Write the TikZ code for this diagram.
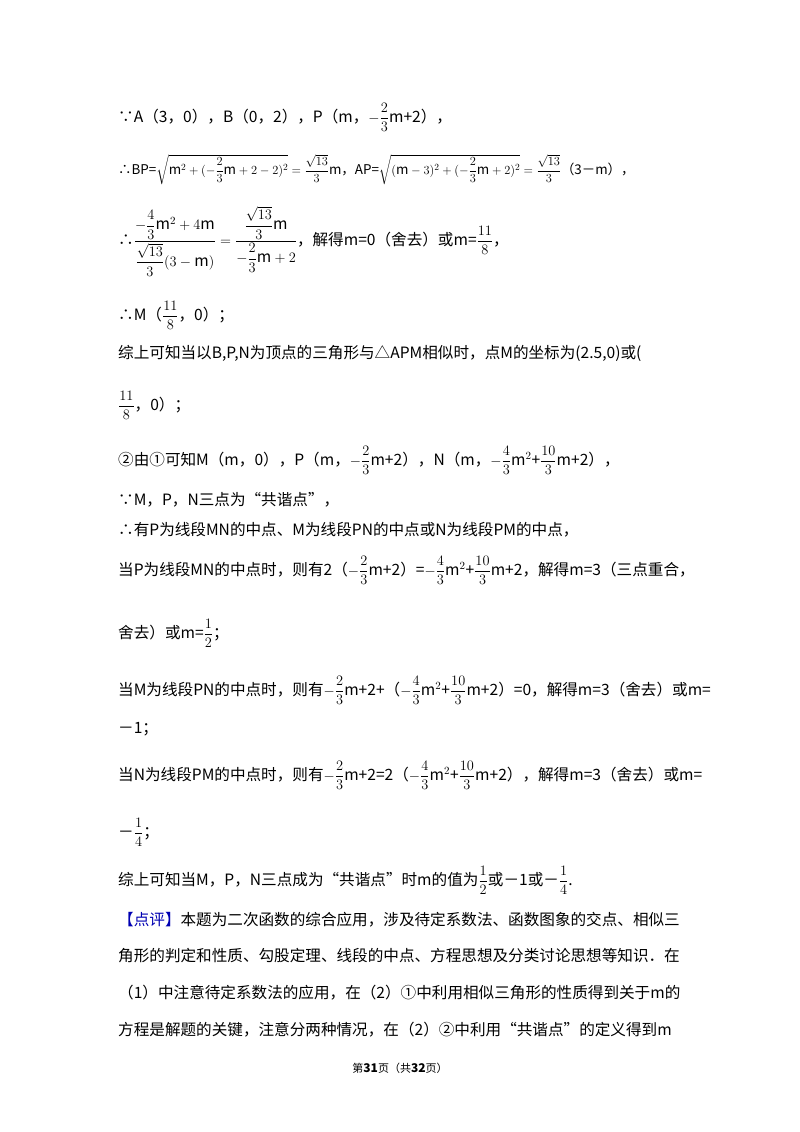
\documentclass[tikz,border=0pt]{standalone}
\usepackage{amsmath}
\usepackage{graphicx}
\usepackage{fontspec}
\setmainfont{Noto Sans CJK SC}
\tikzset{ln/.style={anchor=base west,inner sep=0pt,font=\fontsize{15.6}{17}\selectfont}}
\newcommand{\fr}[2]{\dfrac{#1}{#2}}
\begin{document}
\begin{tikzpicture}[x=1pt,y=-1pt]
\useasboundingbox (0,0) rectangle (800,1132);
\node[ln] (l1) at (118,122) {∵A（3，0），B（0，2），P（m，$-\fr{2}{3}$m+2），};
\node[ln] (l2) at (118,174) {\scalebox{0.86}{∴BP=$\sqrt{\mathrm{m}^2+(-\fr{2}{3}\mathrm{m}+2-2)^2}=\fr{\sqrt{13}}{3}$m，AP=$\sqrt{(\mathrm{m}-3)^2+(-\fr{2}{3}\mathrm{m}+2)^2}=\fr{\sqrt{13}}{3}$（3－m），}};
\node[ln] (l3) at (118,245) {∴$\dfrac{-\dfrac{4}{3}\mathrm{m}^2+4\mathrm{m}}{\dfrac{\sqrt{13}}{3}(3-\mathrm{m})}=\dfrac{\dfrac{\sqrt{13}}{3}\mathrm{m}}{-\dfrac{2}{3}\mathrm{m}+2}$，解得m=0（舍去）或m=$\fr{11}{8}$，};
\node[ln] (l4) at (118,320) {∴M（$\fr{11}{8}$，0）；};
\node[ln] (l5) at (118,358) {综上可知当以B,P,N为顶点的三角形与△APM相似时，点M的坐标为(2.5,0)或(};
\node[ln] (l6) at (118,410) {$\fr{11}{8}$，0）；};
\node[ln] (l7) at (118,465) {②由①可知M（m，0），P（m，$-\fr{2}{3}$m+2），N（m，$-\fr{4}{3}$m$^2$+$\fr{10}{3}$m+2），};
\node[ln] (l8) at (118,505) {∵M，P，N三点为“共谐点”，};
\node[ln] (l9) at (118,535) {∴有P为线段MN的中点、M为线段PN的中点或N为线段PM的中点，};
\node[ln] (l10) at (118,575) {当P为线段MN的中点时，则有2（$-\fr{2}{3}$m+2）=$-\fr{4}{3}$m$^2$+$\fr{10}{3}$m+2，解得m=3（三点重合，};
\node[ln] (l11) at (118,638) {舍去）或m=$\fr{1}{2}$；};
\node[ln] (l12) at (118,695) {当M为线段PN的中点时，则有$-\fr{2}{3}$m+2+（$-\fr{4}{3}$m$^2$+$\fr{10}{3}$m+2）=0，解得m=3（舍去）或m=};
\node[ln] (l13) at (118,733) {－1；};
\node[ln] (l14) at (118,780) {当N为线段PM的中点时，则有$-\fr{2}{3}$m+2=2（$-\fr{4}{3}$m$^2$+$\fr{10}{3}$m+2），解得m=3（舍去）或m=};
\node[ln] (l15) at (118,837) {－$\fr{1}{4}$；};
\node[ln] (l16) at (118,885) {综上可知当M，P，N三点成为“共谐点”时m的值为$\fr{1}{2}$或－1或－$\fr{1}{4}$.};
\node[ln] (l17) at (118,925) {\textcolor{blue!70!black}{【点评】}本题为二次函数的综合应用，涉及待定系数法、函数图象的交点、相似三};
\node[ln] (l18) at (118,961) {角形的判定和性质、勾股定理、线段的中点、方程思想及分类讨论思想等知识．在};
\node[ln] (l19) at (118,998) {（1）中注意待定系数法的应用，在（2）①中利用相似三角形的性质得到关于m的};
\node[ln] (l20) at (118,1035) {方程是解题的关键，注意分两种情况，在（2）②中利用“共谐点”的定义得到m};
\node[anchor=base,inner sep=0pt,font=\fontsize{11}{12}\selectfont] (ft) at (400,1072) {第\textbf{\large 31}页（共\textbf{\large 32}页）};
\end{tikzpicture}
\end{document}
